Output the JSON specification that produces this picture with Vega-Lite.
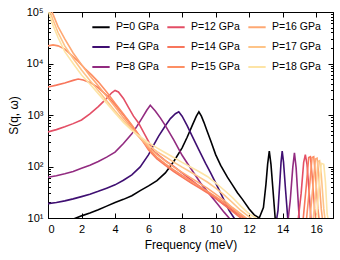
{
 "$schema": "https://vega.github.io/schema/vega-lite/v6.json",
 "width": 285, "height": 206,
 "autosize": "none",
 "padding": {"left": 48, "top": 12, "right": 7, "bottom": 42},
 "background": "white",
 "config": {
  "font": "Liberation Sans",
  "view": {"stroke": "black", "strokeWidth": 1},
  "axis": {"grid": false, "domainColor": "black", "tickColor": "black", "labelColor": "black", "titleColor": "black", "labelFontSize": 11, "titleFontSize": 12, "titleFontWeight": "normal", "labelFont": "Liberation Sans", "titleFont": "Liberation Sans"},
  "legend": {"labelFont": "Liberation Sans", "labelFontSize": 10.5, "labelColor": "black"}
 },
 "data": {"values": [
  {"P":"P=0 GPa","f":0,"s":6},{"P":"P=0 GPa","f":0.5,"s":7},{"P":"P=0 GPa","f":1,"s":8},{"P":"P=0 GPa","f":1.5,"s":9.5},{"P":"P=0 GPa","f":2,"s":11},{"P":"P=0 GPa","f":2.5,"s":12.5},{"P":"P=0 GPa","f":3,"s":14.5},{"P":"P=0 GPa","f":3.5,"s":17},{"P":"P=0 GPa","f":4,"s":20},{"P":"P=0 GPa","f":4.5,"s":23},{"P":"P=0 GPa","f":5,"s":27},{"P":"P=0 GPa","f":5.5,"s":34},{"P":"P=0 GPa","f":6,"s":42},{"P":"P=0 GPa","f":6.5,"s":53},{"P":"P=0 GPa","f":7,"s":75},{"P":"P=0 GPa","f":7.5,"s":125},{"P":"P=0 GPa","f":8,"s":230},{"P":"P=0 GPa","f":8.3,"s":370},{"P":"P=0 GPa","f":8.6,"s":620},{"P":"P=0 GPa","f":8.85,"s":950},{"P":"P=0 GPa","f":9.0,"s":1150},{"P":"P=0 GPa","f":9.15,"s":950},{"P":"P=0 GPa","f":9.3,"s":720},{"P":"P=0 GPa","f":9.5,"s":480},{"P":"P=0 GPa","f":9.7,"s":320},{"P":"P=0 GPa","f":10.0,"s":170},{"P":"P=0 GPa","f":10.3,"s":105},{"P":"P=0 GPa","f":10.7,"s":62},{"P":"P=0 GPa","f":11.0,"s":44},{"P":"P=0 GPa","f":11.3,"s":31},{"P":"P=0 GPa","f":11.6,"s":23},{"P":"P=0 GPa","f":12.0,"s":15},{"P":"P=0 GPa","f":12.3,"s":11.5},{"P":"P=0 GPa","f":12.6,"s":10},{"P":"P=0 GPa","f":12.85,"s":16},{"P":"P=0 GPa","f":13.0,"s":45},{"P":"P=0 GPa","f":13.1,"s":110},{"P":"P=0 GPa","f":13.2,"s":200},{"P":"P=0 GPa","f":13.3,"s":110},{"P":"P=0 GPa","f":13.42,"s":35},{"P":"P=0 GPa","f":13.55,"s":10},{"P":"P=0 GPa","f":13.7,"s":7},
  {"P":"P=4 GPa","f":0,"s":19},{"P":"P=4 GPa","f":0.5,"s":20},{"P":"P=4 GPa","f":1,"s":21.5},{"P":"P=4 GPa","f":1.5,"s":23.5},{"P":"P=4 GPa","f":2,"s":26},{"P":"P=4 GPa","f":2.5,"s":29},{"P":"P=4 GPa","f":3,"s":33},{"P":"P=4 GPa","f":3.5,"s":38},{"P":"P=4 GPa","f":4,"s":44},{"P":"P=4 GPa","f":4.5,"s":54},{"P":"P=4 GPa","f":5,"s":69},{"P":"P=4 GPa","f":5.5,"s":98},{"P":"P=4 GPa","f":6,"s":170},{"P":"P=4 GPa","f":6.3,"s":260},{"P":"P=4 GPa","f":6.6,"s":390},{"P":"P=4 GPa","f":7.0,"s":620},{"P":"P=4 GPa","f":7.3,"s":850},{"P":"P=4 GPa","f":7.6,"s":1060},{"P":"P=4 GPa","f":7.8,"s":1150},{"P":"P=4 GPa","f":8.0,"s":950},{"P":"P=4 GPa","f":8.3,"s":620},{"P":"P=4 GPa","f":8.6,"s":390},{"P":"P=4 GPa","f":9.0,"s":210},{"P":"P=4 GPa","f":9.4,"s":115},{"P":"P=4 GPa","f":9.7,"s":75},{"P":"P=4 GPa","f":10.0,"s":48},{"P":"P=4 GPa","f":10.45,"s":24},{"P":"P=4 GPa","f":10.8,"s":14},{"P":"P=4 GPa","f":11.1,"s":10},{"P":"P=4 GPa","f":11.3,"s":8},{"P":"P=4 GPa","f":13.6,"s":8},{"P":"P=4 GPa","f":13.72,"s":14},{"P":"P=4 GPa","f":13.82,"s":45},{"P":"P=4 GPa","f":13.9,"s":120},{"P":"P=4 GPa","f":13.97,"s":200},{"P":"P=4 GPa","f":14.05,"s":120},{"P":"P=4 GPa","f":14.17,"s":35},{"P":"P=4 GPa","f":14.3,"s":10},{"P":"P=4 GPa","f":14.4,"s":8},
  {"P":"P=8 GPa","f":0,"s":62},{"P":"P=8 GPa","f":0.5,"s":66},{"P":"P=8 GPa","f":1,"s":72},{"P":"P=8 GPa","f":1.5,"s":80},{"P":"P=8 GPa","f":2,"s":92},{"P":"P=8 GPa","f":2.5,"s":106},{"P":"P=8 GPa","f":3,"s":125},{"P":"P=8 GPa","f":3.5,"s":152},{"P":"P=8 GPa","f":4,"s":190},{"P":"P=8 GPa","f":4.5,"s":280},{"P":"P=8 GPa","f":5,"s":430},{"P":"P=8 GPa","f":5.3,"s":600},{"P":"P=8 GPa","f":5.6,"s":860},{"P":"P=8 GPa","f":5.9,"s":1250},{"P":"P=8 GPa","f":6.1,"s":1550},{"P":"P=8 GPa","f":6.4,"s":1200},{"P":"P=8 GPa","f":6.7,"s":880},{"P":"P=8 GPa","f":7.0,"s":620},{"P":"P=8 GPa","f":7.5,"s":330},{"P":"P=8 GPa","f":8.0,"s":165},{"P":"P=8 GPa","f":8.3,"s":117},{"P":"P=8 GPa","f":8.7,"s":75},{"P":"P=8 GPa","f":9.1,"s":48},{"P":"P=8 GPa","f":9.6,"s":30},{"P":"P=8 GPa","f":10.1,"s":19},{"P":"P=8 GPa","f":10.5,"s":13},{"P":"P=8 GPa","f":10.8,"s":10},{"P":"P=8 GPa","f":11,"s":8},{"P":"P=8 GPa","f":14.3,"s":8},{"P":"P=8 GPa","f":14.45,"s":22},{"P":"P=8 GPa","f":14.6,"s":95},{"P":"P=8 GPa","f":14.7,"s":185},{"P":"P=8 GPa","f":14.8,"s":95},{"P":"P=8 GPa","f":14.9,"s":28},{"P":"P=8 GPa","f":15.0,"s":8},
  {"P":"P=12 GPa","f":0,"s":470},{"P":"P=12 GPa","f":0.5,"s":520},{"P":"P=12 GPa","f":1,"s":590},{"P":"P=12 GPa","f":1.5,"s":680},{"P":"P=12 GPa","f":2,"s":800},{"P":"P=12 GPa","f":2.5,"s":1050},{"P":"P=12 GPa","f":3,"s":1450},{"P":"P=12 GPa","f":3.5,"s":2100},{"P":"P=12 GPa","f":3.8,"s":2700},{"P":"P=12 GPa","f":4.0,"s":3000},{"P":"P=12 GPa","f":4.2,"s":2800},{"P":"P=12 GPa","f":4.5,"s":2100},{"P":"P=12 GPa","f":4.8,"s":1400},{"P":"P=12 GPa","f":5.1,"s":950},{"P":"P=12 GPa","f":5.4,"s":700},{"P":"P=12 GPa","f":5.8,"s":400},{"P":"P=12 GPa","f":6.3,"s":200},{"P":"P=12 GPa","f":7,"s":130},{"P":"P=12 GPa","f":7.5,"s":100},{"P":"P=12 GPa","f":8,"s":75},{"P":"P=12 GPa","f":9,"s":42},{"P":"P=12 GPa","f":10,"s":24},{"P":"P=12 GPa","f":11,"s":14},{"P":"P=12 GPa","f":11.7,"s":10},{"P":"P=12 GPa","f":12,"s":8},{"P":"P=12 GPa","f":14.9,"s":8},{"P":"P=12 GPa","f":15.1,"s":30},{"P":"P=12 GPa","f":15.25,"s":120},{"P":"P=12 GPa","f":15.35,"s":170},{"P":"P=12 GPa","f":15.45,"s":110},{"P":"P=12 GPa","f":15.6,"s":25},{"P":"P=12 GPa","f":15.7,"s":8},
  {"P":"P=14 GPa","f":0,"s":3500},{"P":"P=14 GPa","f":0.5,"s":3800},{"P":"P=14 GPa","f":1,"s":4200},{"P":"P=14 GPa","f":1.5,"s":4700},{"P":"P=14 GPa","f":1.8,"s":5000},{"P":"P=14 GPa","f":2.1,"s":4800},{"P":"P=14 GPa","f":2.5,"s":4300},{"P":"P=14 GPa","f":3,"s":3400},{"P":"P=14 GPa","f":3.5,"s":2400},{"P":"P=14 GPa","f":4,"s":1600},{"P":"P=14 GPa","f":4.5,"s":1000},{"P":"P=14 GPa","f":5,"s":620},{"P":"P=14 GPa","f":5.5,"s":370},{"P":"P=14 GPa","f":6,"s":210},{"P":"P=14 GPa","f":6.5,"s":140},{"P":"P=14 GPa","f":7,"s":105},{"P":"P=14 GPa","f":7.5,"s":80},{"P":"P=14 GPa","f":8,"s":62},{"P":"P=14 GPa","f":8.5,"s":49},{"P":"P=14 GPa","f":9,"s":39},{"P":"P=14 GPa","f":9.5,"s":31},{"P":"P=14 GPa","f":10,"s":24},{"P":"P=14 GPa","f":10.5,"s":18},{"P":"P=14 GPa","f":11,"s":13.5},{"P":"P=14 GPa","f":11.5,"s":10},{"P":"P=14 GPa","f":12,"s":8},{"P":"P=14 GPa","f":15.2,"s":8},{"P":"P=14 GPa","f":15.4,"s":40},{"P":"P=14 GPa","f":15.55,"s":150},{"P":"P=14 GPa","f":15.65,"s":155},{"P":"P=14 GPa","f":15.75,"s":70},{"P":"P=14 GPa","f":15.9,"s":15},{"P":"P=14 GPa","f":16.0,"s":8},
  {"P":"P=15 GPa","f":0,"s":22000},{"P":"P=15 GPa","f":0.3,"s":23000},{"P":"P=15 GPa","f":0.6,"s":22000},{"P":"P=15 GPa","f":1,"s":19000},{"P":"P=15 GPa","f":1.4,"s":14500},{"P":"P=15 GPa","f":1.8,"s":11000},{"P":"P=15 GPa","f":2.2,"s":8000},{"P":"P=15 GPa","f":2.6,"s":6000},{"P":"P=15 GPa","f":3,"s":4400},{"P":"P=15 GPa","f":3.5,"s":2800},{"P":"P=15 GPa","f":4,"s":1700},{"P":"P=15 GPa","f":4.5,"s":1050},{"P":"P=15 GPa","f":5,"s":640},{"P":"P=15 GPa","f":5.5,"s":380},{"P":"P=15 GPa","f":6,"s":220},{"P":"P=15 GPa","f":6.5,"s":150},{"P":"P=15 GPa","f":7,"s":112},{"P":"P=15 GPa","f":7.5,"s":86},{"P":"P=15 GPa","f":8,"s":67},{"P":"P=15 GPa","f":8.5,"s":53},{"P":"P=15 GPa","f":9,"s":42},{"P":"P=15 GPa","f":9.5,"s":33},{"P":"P=15 GPa","f":10,"s":26},{"P":"P=15 GPa","f":10.5,"s":20},{"P":"P=15 GPa","f":11,"s":15},{"P":"P=15 GPa","f":11.5,"s":11},{"P":"P=15 GPa","f":12,"s":8.5},{"P":"P=15 GPa","f":15.4,"s":8},{"P":"P=15 GPa","f":15.6,"s":40},{"P":"P=15 GPa","f":15.75,"s":150},{"P":"P=15 GPa","f":15.85,"s":155},{"P":"P=15 GPa","f":15.95,"s":70},{"P":"P=15 GPa","f":16.1,"s":15},{"P":"P=15 GPa","f":16.2,"s":8},
  {"P":"P=16 GPa","f":0,"s":160000},{"P":"P=16 GPa","f":0.3,"s":90000},{"P":"P=16 GPa","f":0.6,"s":52000},{"P":"P=16 GPa","f":1,"s":30000},{"P":"P=16 GPa","f":1.5,"s":16000},{"P":"P=16 GPa","f":2,"s":9500},{"P":"P=16 GPa","f":2.5,"s":5800},{"P":"P=16 GPa","f":3,"s":3700},{"P":"P=16 GPa","f":3.5,"s":2300},{"P":"P=16 GPa","f":4,"s":1450},{"P":"P=16 GPa","f":4.5,"s":880},{"P":"P=16 GPa","f":5,"s":560},{"P":"P=16 GPa","f":5.5,"s":350},{"P":"P=16 GPa","f":6,"s":235},{"P":"P=16 GPa","f":6.5,"s":170},{"P":"P=16 GPa","f":7,"s":128},{"P":"P=16 GPa","f":7.5,"s":98},{"P":"P=16 GPa","f":8,"s":77},{"P":"P=16 GPa","f":8.5,"s":61},{"P":"P=16 GPa","f":9,"s":48},{"P":"P=16 GPa","f":9.5,"s":38},{"P":"P=16 GPa","f":10,"s":29},{"P":"P=16 GPa","f":10.5,"s":22},{"P":"P=16 GPa","f":11,"s":16},{"P":"P=16 GPa","f":11.5,"s":12},{"P":"P=16 GPa","f":12,"s":9},{"P":"P=16 GPa","f":15.6,"s":8},{"P":"P=16 GPa","f":15.8,"s":40},{"P":"P=16 GPa","f":15.95,"s":140},{"P":"P=16 GPa","f":16.05,"s":145},{"P":"P=16 GPa","f":16.15,"s":70},{"P":"P=16 GPa","f":16.3,"s":15},{"P":"P=16 GPa","f":16.4,"s":8},
  {"P":"P=17 GPa","f":0,"s":130000},{"P":"P=17 GPa","f":0.3,"s":70000},{"P":"P=17 GPa","f":0.6,"s":40000},{"P":"P=17 GPa","f":1,"s":22000},{"P":"P=17 GPa","f":1.5,"s":12500},{"P":"P=17 GPa","f":2,"s":7500},{"P":"P=17 GPa","f":2.5,"s":4700},{"P":"P=17 GPa","f":3,"s":3000},{"P":"P=17 GPa","f":3.5,"s":1900},{"P":"P=17 GPa","f":4,"s":1200},{"P":"P=17 GPa","f":4.5,"s":780},{"P":"P=17 GPa","f":5,"s":520},{"P":"P=17 GPa","f":5.5,"s":360},{"P":"P=17 GPa","f":6,"s":260},{"P":"P=17 GPa","f":6.5,"s":195},{"P":"P=17 GPa","f":7,"s":155},{"P":"P=17 GPa","f":7.5,"s":122},{"P":"P=17 GPa","f":8,"s":97},{"P":"P=17 GPa","f":8.5,"s":78},{"P":"P=17 GPa","f":9,"s":63},{"P":"P=17 GPa","f":9.5,"s":50},{"P":"P=17 GPa","f":10,"s":38},{"P":"P=17 GPa","f":10.5,"s":28},{"P":"P=17 GPa","f":11,"s":20},{"P":"P=17 GPa","f":11.5,"s":14},{"P":"P=17 GPa","f":12,"s":10.5},{"P":"P=17 GPa","f":12.3,"s":9},{"P":"P=17 GPa","f":15.8,"s":8},{"P":"P=17 GPa","f":16.0,"s":40},{"P":"P=17 GPa","f":16.1,"s":125},{"P":"P=17 GPa","f":16.2,"s":130},{"P":"P=17 GPa","f":16.3,"s":70},{"P":"P=17 GPa","f":16.45,"s":15},{"P":"P=17 GPa","f":16.55,"s":8},
  {"P":"P=18 GPa","f":0,"s":110000},{"P":"P=18 GPa","f":0.3,"s":55000},{"P":"P=18 GPa","f":0.6,"s":32000},{"P":"P=18 GPa","f":1,"s":17000},{"P":"P=18 GPa","f":1.5,"s":10000},{"P":"P=18 GPa","f":2,"s":6000},{"P":"P=18 GPa","f":2.5,"s":4000},{"P":"P=18 GPa","f":3,"s":2600},{"P":"P=18 GPa","f":3.5,"s":1700},{"P":"P=18 GPa","f":4,"s":1100},{"P":"P=18 GPa","f":4.5,"s":720},{"P":"P=18 GPa","f":5,"s":500},{"P":"P=18 GPa","f":5.5,"s":380},{"P":"P=18 GPa","f":6,"s":290},{"P":"P=18 GPa","f":6.5,"s":230},{"P":"P=18 GPa","f":7,"s":185},{"P":"P=18 GPa","f":7.5,"s":150},{"P":"P=18 GPa","f":8,"s":120},{"P":"P=18 GPa","f":8.5,"s":98},{"P":"P=18 GPa","f":9,"s":80},{"P":"P=18 GPa","f":9.5,"s":64},{"P":"P=18 GPa","f":10,"s":48},{"P":"P=18 GPa","f":10.5,"s":35},{"P":"P=18 GPa","f":11,"s":25},{"P":"P=18 GPa","f":11.5,"s":17},{"P":"P=18 GPa","f":12,"s":12},{"P":"P=18 GPa","f":12.4,"s":10},{"P":"P=18 GPa","f":12.6,"s":9},{"P":"P=18 GPa","f":16.0,"s":8},{"P":"P=18 GPa","f":16.15,"s":35},{"P":"P=18 GPa","f":16.3,"s":115},{"P":"P=18 GPa","f":16.45,"s":110},{"P":"P=18 GPa","f":16.55,"s":50},{"P":"P=18 GPa","f":16.65,"s":12},{"P":"P=18 GPa","f":16.75,"s":8}
 ]},
 "layer": [
  {
   "mark": {"type": "line", "clip": true, "strokeWidth": 1.6},
   "encoding": {
    "x": {"field": "f", "type": "quantitative", "scale": {"domain": [0, 17], "nice": false, "zero": false},
          "axis": {"orient": "bottom", "title": "Frequency (meV)", "values": [0,2,4,6,8,10,12,14,16], "tickSize": -5, "labelPadding": 10, "titlePadding": 5}},
    "y": {"field": "s", "type": "quantitative", "scale": {"type": "log", "domain": [10, 100000], "nice": false},
          "axis": {"orient": "left", "title": "S(q, ω)", "titlePadding": 6,
                   "values": [10,20,30,40,50,60,70,80,90,100,200,300,400,500,600,700,800,900,1000,2000,3000,4000,5000,6000,7000,8000,9000,10000,20000,30000,40000,50000,60000,70000,80000,90000,100000],
                   "labelOverlap": false,
                   "labelExpr": "abs(log(datum.value)/LN10 - round(log(datum.value)/LN10)) < 0.001 ? '10' + ['⁰','¹','²','³','⁴','⁵'][round(log(datum.value)/LN10)] : ''",
                   "tickSize": {"condition": {"test": "abs(log(datum.value)/LN10 - round(log(datum.value)/LN10)) < 0.001", "value": -5}, "value": -2.5},
                   "labelPadding": 10}},
    "color": {"field": "P", "type": "nominal",
              "scale": {"domain": ["P=0 GPa","P=4 GPa","P=8 GPa","P=12 GPa","P=14 GPa","P=15 GPa","P=16 GPa","P=17 GPa","P=18 GPa"],
                        "range": ["#000004","#3f0f72","#922b80","#e34e65","#f8765c","#fd8f64","#fea873","#fec488","#fde4a6"]},
              "legend": {"title": null, "orient": "none", "legendX": 43, "legendY": 5, "columns": 3, "gridAlign": "each", "symbolType": "stroke", "symbolSize": 300, "symbolStrokeWidth": 2, "columnPadding": 4, "rowPadding": 4, "labelOffset": 5}}
   }
  },
  {
   "mark": {"type": "line", "clip": true, "opacity": 0},
   "encoding": {
    "x": {"field": "f", "type": "quantitative", "scale": {"domain": [0, 17], "nice": false, "zero": false},
          "axis": {"orient": "top", "title": null, "labels": false, "values": [0,2,4,6,8,10,12,14,16], "tickSize": -5}},
    "y": {"field": "s", "type": "quantitative", "scale": {"type": "log", "domain": [10, 100000], "nice": false},
          "axis": {"orient": "right", "title": null, "labels": false,
                   "values": [10,20,30,40,50,60,70,80,90,100,200,300,400,500,600,700,800,900,1000,2000,3000,4000,5000,6000,7000,8000,9000,10000,20000,30000,40000,50000,60000,70000,80000,90000,100000],
                   "tickSize": {"condition": {"test": "abs(log(datum.value)/LN10 - round(log(datum.value)/LN10)) < 0.001", "value": -5}, "value": -2.5}}},
    "detail": {"field": "P", "type": "nominal"}
   }
  }
 ],
 "resolve": {"axis": {"x": "independent", "y": "independent"}}
}
